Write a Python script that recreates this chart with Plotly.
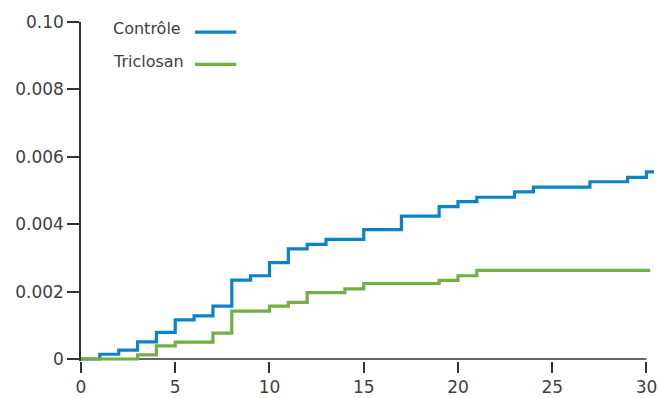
import plotly.graph_objects as go

# Cumulative incidence over follow-up (step functions)
control_t = [0, 1, 2, 3, 4, 5, 6, 7, 8, 9, 10, 11, 12, 13, 15, 17, 19, 20, 21, 23, 24, 27, 29, 30, 30.4]
control_y = [0, 0.00014, 0.00026, 0.00051, 0.00079, 0.00116, 0.00128, 0.00157, 0.00234,
             0.00247, 0.00286, 0.00327, 0.00340, 0.00355, 0.00384, 0.00424, 0.00452,
             0.00467, 0.00480, 0.00496, 0.00510, 0.00526, 0.00539, 0.00555, 0.00555]

triclosan_t = [0, 3, 4, 5, 7, 8, 10, 11, 12, 14, 15, 19, 20, 21, 30.2]
triclosan_y = [0, 0.00012, 0.00039, 0.00050, 0.00077, 0.00142, 0.00157, 0.00168, 0.00197,
               0.00208, 0.00224, 0.00233, 0.00247, 0.00263, 0.00263]

x_ticks = [0, 5, 10, 15, 20, 25, 30]
y_ticks = [0, 0.002, 0.004, 0.006, 0.008, 0.010]
y_ticktext = ["0", "0.002", "0.004", "0.006", "0.008", "0.10"]

series_names = ["Contrôle", "Triclosan"]
BLUE = "#0a84c8"
GREEN = "#72b043"
AXIS = "#333333"
TEXT = "#3f3f3f"
FONT = "DejaVu Sans"

fig = go.Figure()
fig.add_trace(go.Scatter(x=control_t, y=control_y, mode="lines", name=series_names[0],
                         line=dict(color=BLUE, width=3.2, shape="hv")))
fig.add_trace(go.Scatter(x=triclosan_t, y=triclosan_y, mode="lines", name=series_names[1],
                         line=dict(color=GREEN, width=3.2, shape="hv")))

# x axis baseline from 0 to 30 at y = 0
fig.add_shape(type="line", xref="x", yref="y", x0=0, x1=30, y0=0, y1=0,
              line=dict(color=AXIS, width=1.5), layer="below")

# hand-made legend: label on the left, line sample on the right
legend_rows = [(series_names[0], BLUE, 0.982, 0.970), (series_names[1], GREEN, 0.884, 0.875)]
for label, color, ty, ly in legend_rows:
    fig.add_annotation(text=label, xref="paper", yref="paper", x=0.052, y=ty,
                       xanchor="left", yanchor="middle", showarrow=False,
                       font=dict(family=FONT, size=16, color=TEXT))
    fig.add_shape(type="line", xref="paper", yref="paper", x0=0.199, x1=0.271, y0=ly, y1=ly,
                  line=dict(color=color, width=3.2))

fig.update_layout(
    width=658, height=398,
    margin=dict(l=81, r=1, t=22, b=33),
    paper_bgcolor="white", plot_bgcolor="white",
    showlegend=False,
    font=dict(family=FONT, size=17, color=TEXT),
)
fig.update_xaxes(
    range=[0, 30.4], tickvals=x_ticks, ticks="outside", ticklen=11, tickwidth=1.5,
    tickcolor=AXIS, showline=False, showgrid=False, zeroline=False,
    ticklabeloverflow="allow",
    tickfont=dict(family=FONT, size=17, color=TEXT),
)
fig.update_yaxes(
    range=[-0.00006, 0.0100], tickvals=y_ticks, ticktext=y_ticktext, ticks="outside",
    ticklen=12, tickwidth=1.5, tickcolor=AXIS, showline=True, linecolor=AXIS, linewidth=1.5,
    showgrid=False, zeroline=False,
    tickfont=dict(family=FONT, size=17, color=TEXT),
)

fig.write_html("out.html")
